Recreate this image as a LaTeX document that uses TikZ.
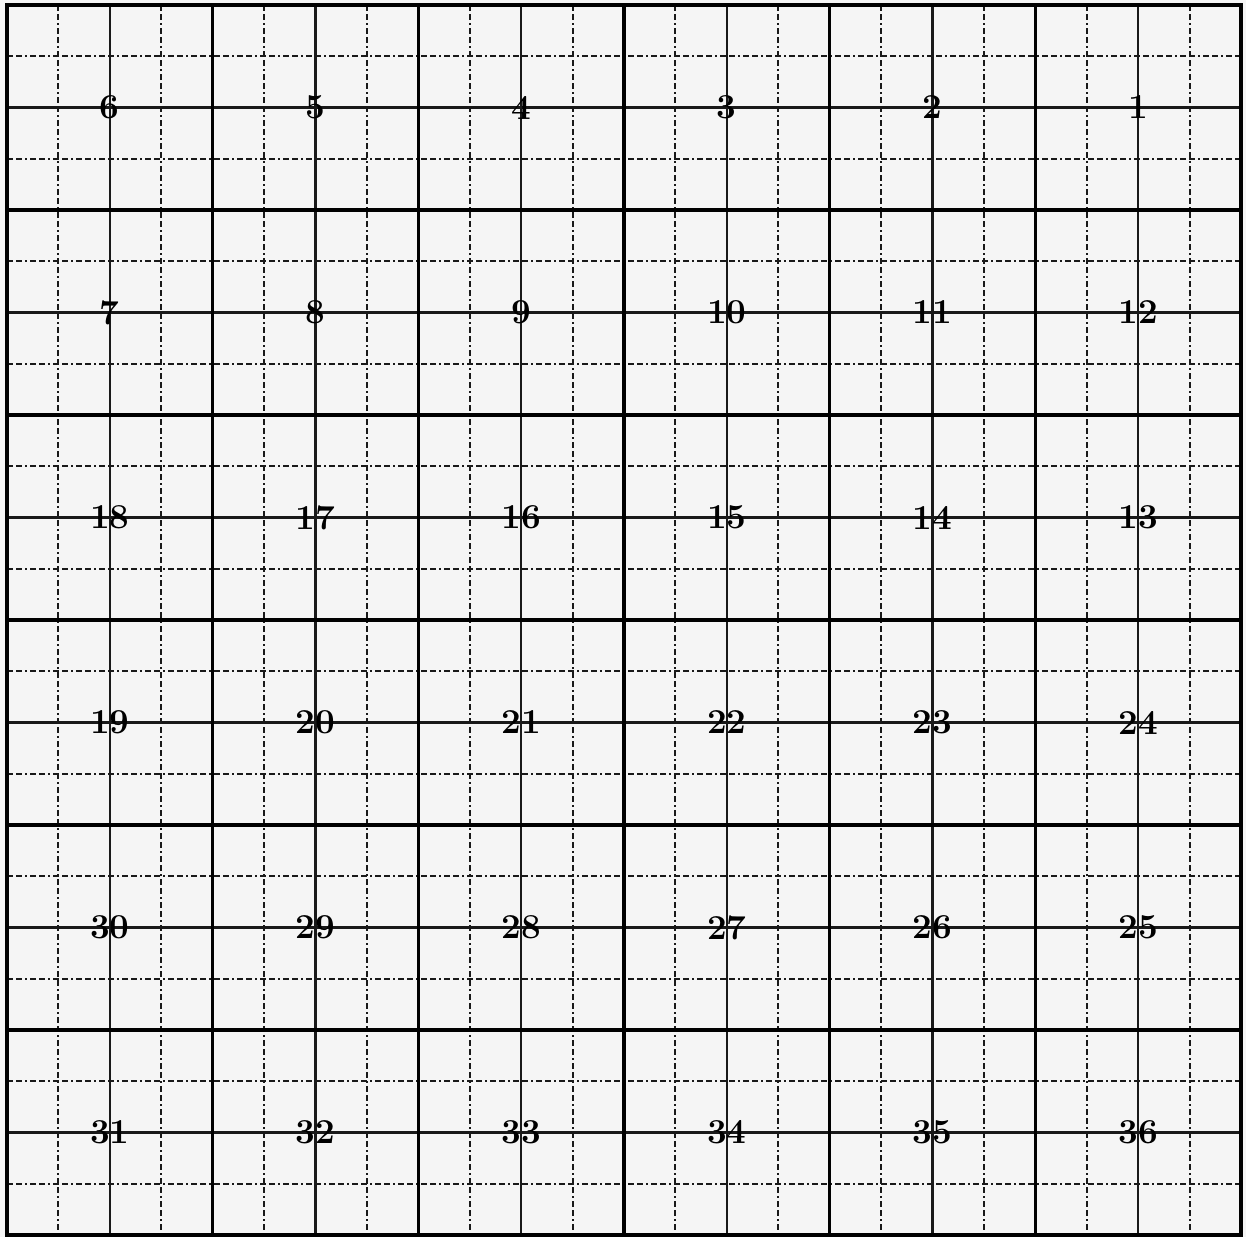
\documentclass[tikz,border=0pt]{standalone}
\begin{document}
\begin{tikzpicture}[x=1pt,y=-1pt,
  secline/.style={line width=3.2pt, black},
  halfline/.style={line width=2.1pt, black!90},
  qline/.style={line width=2.1pt, black!90, dash pattern=on 6pt off 3pt on 6pt off 3pt on 2pt off 3pt},
  num/.style={font=\fontsize{35}{35}\selectfont\bfseries, inner sep=0pt}]
\definecolor{paper}{HTML}{F5F5F5}
\fill[paper] (0,0) rectangle (1246,1237);
\useasboundingbox (0,0) rectangle (1246,1237);
\def\xa{7}\def\xb{1241}\def\ya{5}\def\yb{1235}
\pgfmathsetmacro\dx{(\xb-\xa)/24}
\pgfmathsetmacro\dy{(\yb-\ya)/24}
% quarter lines
\foreach \k in {1,3,...,23}{
  \pgfmathsetmacro\xx{\xa+\k*\dx}
  \pgfmathsetmacro\yy{\ya+\k*\dy}
  \draw[qline] (\xx,\ya) -- (\xx,\yb);
  \draw[qline] (\xa,\yy) -- (\xb,\yy);
}
% half-section lines
\foreach \k in {2,6,...,22}{
  \pgfmathsetmacro\xx{\xa+\k*\dx}
  \pgfmathsetmacro\yy{\ya+\k*\dy}
  \draw[halfline] (\xx,\ya) -- (\xx,\yb);
  \draw[halfline] (\xa,\yy) -- (\xb,\yy);
}
% section lines
\foreach \k in {0,4,...,24}{
  \pgfmathsetmacro\xx{\xa+\k*\dx}
  \pgfmathsetmacro\yy{\ya+\k*\dy}
  \draw[secline] (\xx,\ya-1.6) -- (\xx,\yb+1.6);
  \draw[secline] (\xa-1.6,\yy) -- (\xb+1.6,\yy);
}
% section numbers
\foreach \r/\row in {0/{6,5,4,3,2,1},1/{7,8,9,10,11,12},2/{18,17,16,15,14,13},3/{19,20,21,22,23,24},4/{30,29,28,27,26,25},5/{31,32,33,34,35,36}}{
  \foreach \n [count=\c from 0] in \row{
    \pgfmathsetmacro\xx{\xa+(4*\c+2)*\dx}
    \pgfmathsetmacro\yy{\ya+(4*\r+2)*\dy}
    \node[num] (s\n) at (\xx,\yy) {\n};
  }
}
\end{tikzpicture}
\end{document}
